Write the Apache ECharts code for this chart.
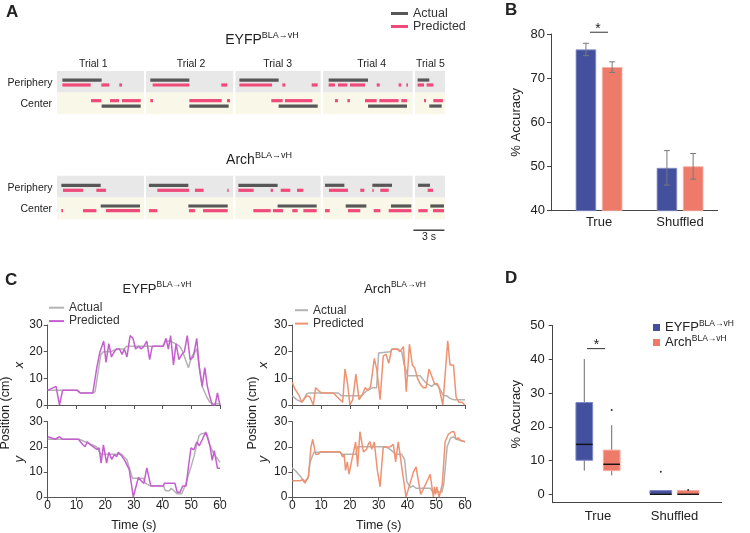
<!DOCTYPE html>
<html><head><meta charset="utf-8">
<script src="https://cdn.jsdelivr.net/npm/echarts@6/dist/echarts.min.js"></script>
<style>html,body{margin:0;padding:0;background:#fff}#c{width:750px;height:533px}</style>
</head><body><div id="c"></div><script>
// ================= DATA =================
// Panel A (time in seconds along concatenated trials)
const trials = [[0,8.42],[8.61,17.06],[17.26,25.52],[25.74,34.42],[34.65,37.55]];
const trialNames = ['Trial 1','Trial 2','Trial 3','Trial 4','Trial 5'];
const trialLabelAt = [3.51,12.97,21.36,30.46,36.14];
const eyfpPeriAct = [[0.52,4.32],[9.03,12.81],[17.65,21.45],[26.29,30.10],[34.90,36.03]];
const eyfpPeriPred = [[0.52,3.26],[4.29,5.06],[6.03,6.29],[9.26,12.81],[15.90,16.48],[17.65,20.81],[21.81,22.10],[24.65,25.23],[26.29,26.90],[27.19,28.10],[28.35,29.81],[30.94,31.23],[33.06,33.32],[33.81,33.97],[34.90,35.52],[35.77,36.42]];
const eyfpCenPred = [[3.29,4.29],[5.13,6.00],[6.29,8.10],[9.03,9.29],[12.81,15.94],[16.45,16.74],[20.74,21.84],[22.06,24.71],[26.90,27.19],[28.10,28.35],[29.81,30.94],[31.19,33.06],[33.32,33.87],[35.52,35.71],[36.42,37.35]];
const eyfpCenAct = [[4.32,8.10],[12.81,16.61],[21.45,25.23],[30.10,33.87],[36.03,37.23]];
const archPeriAct = [[0.42,4.23],[8.90,12.71],[17.55,21.35],[25.94,27.81],[30.52,32.42],[34.94,36.10]];
const archPeriPred = [[0.58,2.52],[3.81,4.74],[9.71,12.77],[13.35,14.19],[16.48,16.61],[17.55,19.03],[20.68,20.90],[21.65,22.58],[23.23,23.84],[26.32,28.16],[29.35,29.74],[30.52,30.65],[31.29,32.10],[35.87,36.39]];
const archCenAct = [[4.23,8.03],[12.71,16.52],[21.35,25.13],[27.94,29.94],[32.32,34.29],[36.13,37.45]];
const archCenPred = [[0.42,0.58],[2.52,3.81],[4.74,8.03],[8.90,9.71],[12.77,13.35],[14.13,16.52],[19.00,20.68],[20.90,21.87],[22.77,23.29],[23.84,25.13],[25.94,26.39],[28.16,29.35],[30.65,31.29],[32.10,34.29],[34.97,35.87],[36.39,37.45]];
const scaleBar = [[34.49,37.49]]; // 3 s

// Panel B
const bCats = ['True','Shuffled'];
const bEyfpMean = [76.5, 49.7];
const bEyfpSem = [1.4, 3.9];
const bArchMean = [72.5, 50.05];
const bArchSem = [1.2, 2.9];
const bSig = [[1, 80.4]];

// Panel C  [time (s), position (cm)]
const eyfpXAct = [[0,5.5],[10.3,5.5],[11.5,4.5],[15.7,4.5],[16.5,5],[17.5,12],[18.5,19],[19.5,20],[22,20],[24,21],[26.5,21],[27.5,22],[40,22],[41,24],[42.5,24],[44.5,23],[46,22],[47,20],[49,14],[50.1,18],[51.9,21],[52.8,14],[53.8,7],[55.4,3],[56.5,1],[57.7,0.5],[60,0.5]];
const eyfpXPred = [[0,5.5],[2.9,7],[4.1,0],[5.2,5.5],[10.3,5.5],[11.3,4.5],[15.7,4.5],[17.1,14],[18.2,20],[19.5,24],[20.3,16],[21.3,23],[22.2,18],[23.2,20],[24,21],[25,21],[25.9,19],[26.7,21],[27.6,18],[28.7,26],[29.7,25],[30.6,21],[31.7,22],[32.5,21],[33.5,22],[34.5,24],[35.5,17],[36.4,22],[40.3,22],[41.2,25],[42,21],[42.8,26],[43.8,15],[44.7,23],[45.7,17],[46.7,19],[47.6,20],[48.6,26],[49.6,17],[50.7,18],[51.9,25],[52.8,14],[53.8,7],[54.7,14],[55.6,7],[56.5,3],[57.3,0],[58.3,0],[59.1,4.5],[60,0]];
const eyfpYAct = [[0,23],[11,23],[13,22],[15,21],[17,20],[18.5,17],[25.8,17],[26.5,16],[27.5,15],[28.6,11],[29.5,7.5],[33.3,7.5],[34,5.5],[35.5,4.5],[40.3,4.5],[41,2.5],[42.4,2.5],[43,3.5],[44,2.5],[45,1.3],[46.7,1.3],[48,5],[49.9,12],[50.9,16],[52.7,24.4],[53.6,25.3],[55.4,25.3],[56.5,20.6],[57.7,17.5],[59.1,15.3],[60,13.8]];
const eyfpYPred = [[0,24],[1.4,23.5],[2.6,23],[4.1,24],[5.2,23],[10.7,23],[12.1,21],[13,20],[13.8,22],[14.7,21],[15.9,20],[17.1,19],[17.9,19.6],[18.6,13.5],[19.4,20.8],[20.5,13.5],[21.3,17.8],[22.3,15],[23.2,16.9],[24,16],[24.6,17.8],[25.8,16.3],[26.9,14.4],[28.4,10.9],[29.8,0],[31.6,7.8],[32.7,6.3],[33.5,5.4],[34.5,11.6],[35.9,4.4],[40.3,4.4],[40.6,5.5],[44.3,5.5],[45.1,1.9],[46.1,1.9],[47,4.4],[48.2,4.4],[49,11.9],[49.9,19.6],[50.9,18.8],[51.9,21.9],[52.8,20.4],[53.8,22.8],[55,25.9],[55.8,23.1],[56.5,20.3],[57.3,14.6],[58,18.5],[59.1,11.5],[60,11.5]];
const archXAct = [[0,3.5],[1.5,2],[2.5,1.5],[3.5,1.2],[5,4.2],[6,4.5],[16,4.5],[17,3.5],[24,3.5],[25,4.5],[26.5,5.8],[28,6.5],[29.3,6.5],[30,19.5],[30.5,20],[34,20],[34.8,21],[36.8,21],[38,20],[38.9,15],[40.1,11],[44.4,11],[45.5,9.5],[46.7,8],[48.4,7],[49.6,8],[50.8,7],[52.5,3.5],[53.6,3.5],[54.8,2.5],[56,2],[60,2]];
const archXPred = [[0,8.5],[0.9,6],[1.5,5],[2.4,3.5],[3.2,1],[5,3.5],[6.1,3],[7.3,0],[8.1,6.5],[9,5.5],[10.2,4.5],[14.3,4.5],[14.8,4],[15.6,3],[16.6,2],[17.5,1],[18.3,13.5],[19.2,8],[20,0],[21,2],[22.1,11.6],[23.2,2],[24.4,4],[25.3,6.5],[26.4,5.5],[27.2,7],[28.5,17.5],[29.4,13],[30.5,2],[31.6,18.4],[32.6,19],[33.5,15.6],[34.5,20.9],[36.3,21],[37.4,20],[38.6,21.9],[39.6,5],[40.7,22.8],[41.7,15],[42.5,14],[43.5,10],[44.4,8],[45.5,6.5],[46.5,6.5],[47.5,13.5],[48.4,11],[49.4,8],[50.4,8],[51.1,6],[52.3,0],[52.8,0],[54,24.1],[54.8,15],[56,15],[56.9,3],[57.9,1],[58.9,1],[60,0]];
const archYAct = [[0,11.6],[1.5,10],[3,8],[4,6],[5.5,7.5],[6.2,14],[7.5,17.8],[16.6,17.8],[17.5,17],[22,17],[22.7,20],[32.6,20],[34,19],[36,17],[38,17],[39,15],[39.8,6],[41,3.8],[42,4.5],[43,3.5],[48,3.5],[48.5,2.5],[50,2],[52,2],[52.6,5],[53.8,20],[55,23.5],[56,24],[57,23],[60,22]];
const archYPred = [[0,6.5],[2.7,6.5],[3.8,7],[4.4,5.5],[5.6,8],[6.5,20],[7.1,23],[8.1,17],[9,17],[9.8,18],[16.6,18],[17.5,16],[18,17],[18.5,10.6],[19.1,14],[19.7,9.1],[20.9,16],[22,21.9],[22.7,12.1],[23.5,26],[24.7,18],[25.8,19],[26.4,21],[27,22],[27.6,19],[28.5,21.9],[29.5,11],[30.5,4.1],[31.1,13],[31.6,19.8],[34,20],[35.1,21],[35.9,14],[36.8,22],[39.5,0],[40.1,0],[42.1,10],[43,12],[44.6,1],[46.3,5],[47.9,9],[49,0],[49.4,4],[49.8,1],[50.2,4],[51,0],[51.6,0],[52.1,5],[53.1,22],[54.2,25],[55.4,26],[56.2,26],[56.9,23],[57.7,23.5],[58.5,22.5],[60,22]];

// Panel D  [min, Q1, median, Q3, max]
const dCats = ['True','Shuffled'];
const dEyfpStats = [[7.0,10.1,14.8,27.2,40.1],[0,0,0,1.1,1.1]];
const dArchStats = [[5.6,7.0,8.9,13.1,20.5],[0,0,0,1.1,1.1]];
const dEyfpOut = [[2,6.7]];
const dArchOut = [[1,25.0],[2,1.3]];
const dSig = [[1, 43.2]];

// ================= STYLE =================
const FONT = '"Liberation Sans", Arial, Helvetica, sans-serif';
const DARK = '#575757', PINK = '#f04a7b', PERI = '#e8e8e8', CEN = '#f9f7e7';
const BLUE = '#43509e', SALMON = '#ee7b6a';
const PURPLE = '#c55fcf', ORANGE = '#ee9272', GRAY = '#b3b3b3';
const AXC = '#555';

const chart = echarts.init(document.getElementById('c'), null, {renderer:'canvas'});

function segRender(lane, color, h){
  return function(params, api){
    const a = api.coord([api.value(0), lane]);
    const b = api.coord([api.value(1), lane]);
    return {type:'rect', shape:{x:a[0], y:a[1]-h/2, width:Math.max(b[0]-a[0],1), height:h}, style:{fill:color}};
  };
}
function bgRender(params, api){
  const a = api.coord([api.value(0), 4]);
  const m = api.coord([api.value(1), 2]);
  const b = api.coord([api.value(1), 0]);
  return {type:'group', children:[
    {type:'rect', shape:{x:a[0], y:a[1], width:m[0]-a[0], height:m[1]-a[1]}, style:{fill:PERI}},
    {type:'rect', shape:{x:a[0], y:m[1], width:m[0]-a[0], height:b[1]-m[1]}, style:{fill:CEN}}
  ]};
}
function seg(name, grid, data, lane, color){
  return {type:'custom', name, xAxisIndex:grid, yAxisIndex:grid, data, encode:{x:[0,1]},
    renderItem: segRender(lane, color, 3.2), itemStyle:{color}, z:3, silent:true};
}
function bg(grid){
  return {type:'custom', xAxisIndex:grid, yAxisIndex:grid, data:trials, encode:{x:[0,1]}, renderItem:bgRender, z:1, silent:true};
}

const series = [];
// Panel A
series.push(bg(0), bg(1));
series.push({type:'custom', xAxisIndex:0, yAxisIndex:0, silent:true, data: trialLabelAt.map((t,i)=>[t,i]),
  renderItem:(p,api)=>{const c=api.coord([api.value(0),4]); return {type:'text', x:c[0], y:c[1]-7,
    style:{text:trialNames[p.dataIndex], align:'center', verticalAlign:'middle', font:'10.5px '+FONT, fill:'#222'}};}});
series.push(seg('aActual',0,eyfpPeriAct,3.16,DARK), seg('aPredicted',0,eyfpPeriPred,2.70,PINK),
            seg('aPredicted',0,eyfpCenPred,1.24,PINK), seg('aActual',0,eyfpCenAct,0.74,DARK));
series.push(seg('aActual',1,archPeriAct,3.12,DARK), seg('aPredicted',1,archPeriPred,2.66,PINK),
            seg('aActual',1,archCenAct,1.22,DARK), seg('aPredicted',1,archCenPred,0.79,PINK));
series.push({type:'custom', xAxisIndex:1, yAxisIndex:1, data:scaleBar, encode:{x:[0,1]}, silent:true,
  renderItem:(p,api)=>{const a=api.coord([api.value(0),-1]); const b=api.coord([api.value(1),-1]);
    return {type:'group', children:[
      {type:'line', shape:{x1:a[0],y1:a[1],x2:b[0],y2:b[1]}, style:{stroke:'#222', lineWidth:1.3}},
      {type:'text', x:(a[0]+b[0])/2, y:a[1]+7, style:{text:'3 s', align:'center', verticalAlign:'middle', font:'10.5px '+FONT, fill:'#222'}}]};}});

// Panel B
series.push({type:'bar', name:'bE', xAxisIndex:2, yAxisIndex:2, data:bEyfpMean.map((v,i)=>[i+1,v]), barWidth:20.5, barGap:'28%',
  itemStyle:{color:BLUE, borderColor:'#8a93c8', borderWidth:0.8}, silent:true});
series.push({type:'bar', name:'bA', xAxisIndex:2, yAxisIndex:2, data:bArchMean.map((v,i)=>[i+1,v]), barWidth:20.5, barGap:'28%',
  itemStyle:{color:SALMON, borderColor:'#f6b0a5', borderWidth:0.8}, silent:true});
function errRender(off){
  return (p, api)=>{
    const x=api.value(0), m=api.value(1), e=api.value(2);
    const lo=api.coord([x,m-e]), hi=api.coord([x,m+e]); const cx=lo[0]+off;
    const st={stroke:'#7a7a7a', lineWidth:1};
    return {type:'group', children:[
      {type:'line', shape:{x1:cx,y1:lo[1],x2:cx,y2:hi[1]}, style:st},
      {type:'line', shape:{x1:cx-3,y1:lo[1],x2:cx+3,y2:lo[1]}, style:st},
      {type:'line', shape:{x1:cx-3,y1:hi[1],x2:cx+3,y2:hi[1]}, style:st}]};
  };
}
series.push({type:'custom', xAxisIndex:2, yAxisIndex:2, silent:true, z:5, data:bEyfpMean.map((v,i)=>[i+1,v,bEyfpSem[i]]), renderItem:errRender(-13.1)});
series.push({type:'custom', xAxisIndex:2, yAxisIndex:2, silent:true, z:5, data:bArchMean.map((v,i)=>[i+1,v,bArchSem[i]]), renderItem:errRender(13.1)});
series.push({type:'custom', xAxisIndex:2, yAxisIndex:2, silent:true, z:5, data:bSig,
  renderItem:(p,api)=>{const c=api.coord([api.value(0),api.value(1)]);
    return {type:'group', children:[
      {type:'line', shape:{x1:c[0]-9,y1:c[1],x2:c[0]+9,y2:c[1]}, style:{stroke:'#333', lineWidth:1}},
      {type:'text', x:c[0]-1, y:c[1]-3, style:{text:'*', align:'center', verticalAlign:'middle', font:'14px '+FONT, fill:'#222'}}]};}});

// Panel C
function ln(name, grid, data, color, z){
  return {type:'line', name, xAxisIndex:grid, yAxisIndex:grid, data, showSymbol:false, symbol:'none', silent:true, z,
    lineStyle:{color, width:1.5}, itemStyle:{color}};
}
series.push(ln('c1Actual',3,eyfpXAct,GRAY,2), ln('c1Predicted',3,eyfpXPred,PURPLE,3),
            ln('c1Actual',4,eyfpYAct,GRAY,2), ln('c1Predicted',4,eyfpYPred,PURPLE,3),
            ln('c2Actual',5,archXAct,GRAY,2), ln('c2Predicted',5,archXPred,ORANGE,3),
            ln('c2Actual',6,archYAct,GRAY,2), ln('c2Predicted',6,archYPred,ORANGE,3));

// Panel D
const boxW = [16.7, 21.7];
function boxRender(off, color, edge){
  return (p, api)=>{
    const x=api.value(0); const w=boxW[x-1];
    const y=v=>api.coord([x,v])[1]; const cx=api.coord([x,0])[0]+off;
    const mn=y(api.value(1)), q1=y(api.value(2)), md=y(api.value(3)), q3=y(api.value(4)), mx=y(api.value(5));
    const wst={stroke:'#6a6a6a', lineWidth:1};
    return {type:'group', children:[
      {type:'line', shape:{x1:cx,y1:mx,x2:cx,y2:q3}, style:wst},
      {type:'line', shape:{x1:cx,y1:q1,x2:cx,y2:mn}, style:wst},
      {type:'rect', shape:{x:cx-w/2, y:q3, width:w, height:Math.max(q1-q3,1)}, style:{fill:color, stroke:edge, lineWidth:1}},
      {type:'line', shape:{x1:cx-w/2,y1:md,x2:cx+w/2,y2:md}, style:{stroke:'#111', lineWidth:1.4}}]};
  };
}
function outRender(off){
  return (p, api)=>{const c=api.coord([api.value(0),api.value(1)]);
    return {type:'circle', shape:{cx:c[0]+off, cy:c[1], r:1}, style:{fill:'#333'}};};
}
series.push({type:'custom', name:'dEYFP', xAxisIndex:7, yAxisIndex:7, silent:true, itemStyle:{color:BLUE},
  data:dEyfpStats.map((s,i)=>[i+1,...s]), renderItem:boxRender(-13.7, BLUE, '#7d87c4')});
series.push({type:'custom', name:'dArch', xAxisIndex:7, yAxisIndex:7, silent:true, itemStyle:{color:SALMON},
  data:dArchStats.map((s,i)=>[i+1,...s]), renderItem:boxRender(13.7, SALMON, '#f5ab9f')});
series.push({type:'custom', xAxisIndex:7, yAxisIndex:7, silent:true, data:dEyfpOut, renderItem:outRender(-13.7), z:6});
series.push({type:'custom', xAxisIndex:7, yAxisIndex:7, silent:true, data:dArchOut, renderItem:outRender(13.7), z:6});
series.push({type:'custom', xAxisIndex:7, yAxisIndex:7, silent:true, data:dSig, z:6,
  renderItem:(p,api)=>{const c=api.coord([api.value(0),api.value(1)]);
    return {type:'group', children:[
      {type:'line', shape:{x1:c[0]-11,y1:c[1],x2:c[0]+7,y2:c[1]}, style:{stroke:'#333', lineWidth:1}},
      {type:'text', x:c[0]-1.5, y:c[1]-3, style:{text:'*', align:'center', verticalAlign:'middle', font:'14px '+FONT, fill:'#222'}}]};}});

// ================= AXES =================
const hiddenX = (max)=>({type:'value', min:0, max, show:false});
const lbl = (sz, m)=>({fontSize:sz, color:'#222', fontFamily:FONT, margin:m});
const axLine = {show:true, onZero:false, lineStyle:{color:AXC, width:1}};
const axLineDark = {show:true, onZero:false, lineStyle:{color:'#444', width:1}};
const grids = [
  {left:57, top:71, width:388, height:43},
  {left:57, top:175.7, width:388, height:43.6},
  {left:551, top:34, width:166.7, height:176.7},
  {left:47.7, top:325, width:172.3, height:80},
  {left:47.7, top:421.7, width:172.3, height:80},
  {left:292.3, top:325, width:172.7, height:80},
  {left:292.3, top:421.7, width:172.7, height:80},
  {left:552.7, top:325.7, width:169, height:177}
];
const cX = (labels)=>({type:'value', min:0, max:60, interval:10, axisLine:axLine, splitLine:{show:false},
  axisTick:{show:true, length:4, lineStyle:{color:AXC}}, axisLabel:Object.assign(lbl(12,3),{show:labels}),
  name: labels ? 'Time (s)' : '', nameLocation:'middle', nameGap:22, nameTextStyle:{fontSize:12.5, color:'#222', fontFamily:FONT}});
const cY = (nm)=>({type:'value', min:0, max:30, interval:10, axisLine:axLine, splitLine:{show:false},
  axisTick:{show:true, length:4, lineStyle:{color:AXC}}, axisLabel:lbl(12,5),
  name:nm, nameLocation:'middle', nameGap:17, nameTextStyle:{fontSize:13, fontStyle:'italic', color:'#222', fontFamily:FONT}});

const xAxis = [
  hiddenX(37.55), hiddenX(37.55),
  {type:'value', min:0.407, max:2.465, axisLine:axLineDark, splitLine:{show:false}, axisTick:{show:false},
    axisLabel:Object.assign(lbl(13,5),{customValues:[1,2], formatter:v=>bCats[Math.round(v)-1]||''})},
  cX(false), cX(true), cX(false), cX(true),
  {type:'value', min:0.408, max:2.617, axisLine:axLineDark, splitLine:{show:false}, axisTick:{show:false},
    axisLabel:Object.assign(lbl(13,7),{customValues:[1,2], formatter:v=>dCats[Math.round(v)-1]||''})}
];
const yAxis = [
  {type:'value', min:0, max:4, show:false},
  {type:'value', min:0, max:4, show:false},
  {type:'value', min:40, max:80, interval:10, axisLine:axLineDark, splitLine:{show:false},
    axisTick:{show:true, length:4, lineStyle:{color:'#444'}}, axisLabel:lbl(13,6),
    name:'% Accuracy', nameLocation:'middle', nameGap:28, nameTextStyle:{fontSize:13, color:'#222', fontFamily:FONT}},
  cY('x'), cY('y'), cY('x'), cY('y'),
  {type:'value', min:-2.5, max:50, axisLine:axLineDark, splitLine:{show:false},
    axisTick:{show:true, length:4, customValues:[0,10,20,30,40,50], lineStyle:{color:'#444'}},
    axisLabel:Object.assign(lbl(13,8),{customValues:[0,10,20,30,40,50]}),
    name:'% Accuracy', nameLocation:'middle', nameGap:30, nameTextStyle:{fontSize:13, color:'#222', fontFamily:FONT}}
];
xAxis.forEach((a,i)=>{a.gridIndex=i;});
yAxis.forEach((a,i)=>{a.gridIndex=i;});

// ================= TEXT =================
const supRich = (m, s)=>({m:{fontSize:m, lineHeight:m+4, fontFamily:FONT, fill:'#222'}, s:{fontSize:s, lineHeight:5, verticalAlign:'top', fontFamily:FONT, fill:'#222'}});
function supText(x, y, main, sup, m, s){
  return {type:'text', x, y, style:{text:'{m|'+main+'}{s|'+sup+'}', rich:supRich(m,s), align:'center', verticalAlign:'middle', fill:'#222'}};
}
function txt(x, y, t, opts){
  return {type:'text', x, y, style:Object.assign({text:t, font:'10.5px '+FONT, fill:'#222', align:'right', verticalAlign:'middle'}, opts||{})};
}
const panelFont = 'bold 17px '+FONT;
const graphic = [
  txt(6,12,'A',{font:panelFont, align:'left'}),
  txt(505,10,'B',{font:panelFont, align:'left'}),
  txt(5,280,'C',{font:panelFont, align:'left'}),
  txt(505,278,'D',{font:panelFont, align:'left'}),
  supText(262,40,'EYFP','BLA→vH',14,9),
  supText(259,160,'Arch','BLA→vH',14,9),
  supText(157,289,'EYFP','BLA→vH',13,8.5),
  supText(395,289,'Arch','BLA→vH',13,8.5),
  txt(52.5,83,'Periphery'), txt(52,104.5,'Center'),
  txt(52.5,188,'Periphery'), txt(52,209.5,'Center'),
  Object.assign(txt(6,413,'Position (cm)',{font:'12.5px '+FONT, align:'center'}),{rotation:Math.PI/2}),
  Object.assign(txt(253,413,'Position (cm)',{font:'12.5px '+FONT, align:'center'}),{rotation:Math.PI/2})
];

const legBase = {orient:'vertical', icon:'rect', itemGap:0, selectedMode:false, padding:0};
const legend = [
  Object.assign({}, legBase, {data:['aActual','aPredicted'], left:391, top:7, itemWidth:17, itemHeight:3,
    textStyle:{fontSize:12.5, lineHeight:12.7, color:'#333', fontFamily:FONT}, formatter:n=>n.slice(1)}),
  Object.assign({}, legBase, {data:['c1Actual','c1Predicted'], left:49, top:301, itemWidth:15, itemHeight:2,
    textStyle:{fontSize:12, lineHeight:13.4, color:'#333', fontFamily:FONT}, formatter:n=>n.slice(2)}),
  Object.assign({}, legBase, {data:['c2Actual','c2Predicted'], left:295, top:303.5, itemWidth:13, itemHeight:2,
    textStyle:{fontSize:12, lineHeight:13.4, color:'#333', fontFamily:FONT}, formatter:n=>n.slice(2)}),
  Object.assign({}, legBase, {data:['dEYFP','dArch'], left:653, top:319, itemWidth:7, itemHeight:7,
    formatter:n=> n==='dEYFP' ? '{m|EYFP}{s|BLA→vH}' : '{m|Arch}{s|BLA→vH}',
    textStyle:{color:'#222', fontFamily:FONT, rich:{m:{fontSize:13, lineHeight:17, fontFamily:FONT, color:'#222'}, s:{fontSize:8.5, lineHeight:5, verticalAlign:'top', fontFamily:FONT, color:'#222'}}}})
];

chart.setOption({
  animation:false,
  backgroundColor:'#fff',
  textStyle:{fontFamily:FONT},
  grid:grids, xAxis, yAxis, series, legend, graphic
});
</script></body></html>
